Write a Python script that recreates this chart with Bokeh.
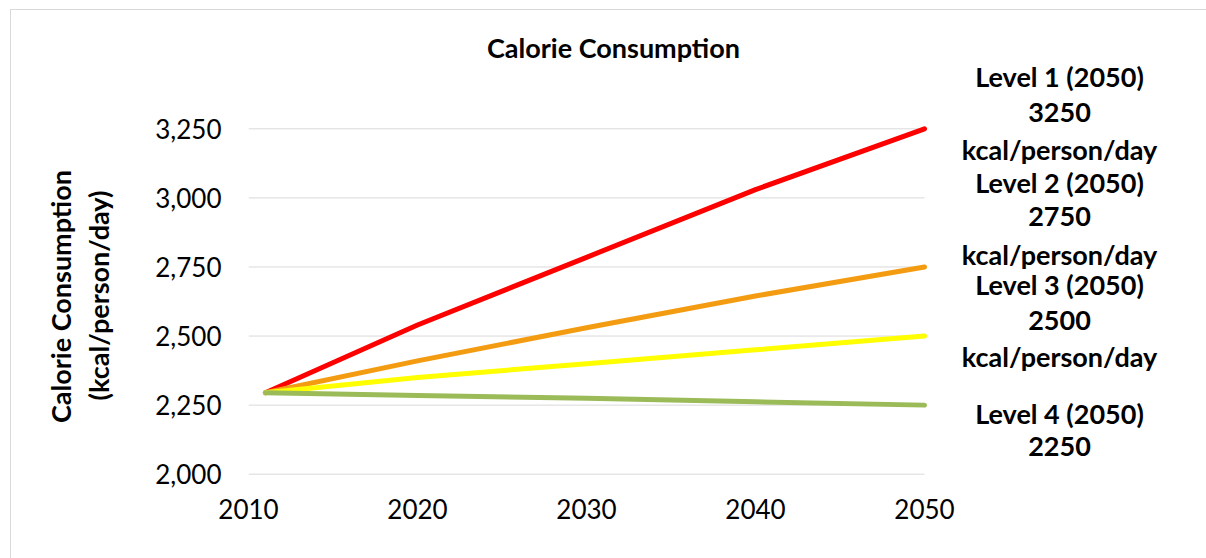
import math

from bokeh.plotting import figure
from bokeh.layouts import row
from bokeh.models import Label, NumeralTickFormatter, FixedTicker, Range1d
from bokeh.embed import file_html
from bokeh.resources import INLINE

# Projected calorie consumption (kcal/person/day) by scenario level
years = [2011, 2020, 2030, 2040, 2050]
level1 = [2295, 2540, 2785, 3030, 3250]
level2 = [2295, 2410, 2530, 2645, 2750]
level3 = [2295, 2350, 2400, 2450, 2500]
level4 = [2295, 2285, 2275, 2262, 2250]

series_colors = ["#FF0000", "#F39C12", "#FFFF00", "#9BBB59"]

x_ticks = [2010, 2020, 2030, 2040, 2050]
y_ticks = [2000, 2250, 2500, 2750, 3000, 3250]

y_title_lines = ["Calorie Consumption", "(kcal/person/day)"]

# Right-hand notes: one entry per text line
note_lines = [
    "Level 1 (2050)", "3250", "kcal/person/day",
    "Level 2 (2050)", "2750", "kcal/person/day",
    "Level 3 (2050)", "2500", "kcal/person/day",
    "Level 4 (2050)", "2250",
]
note_rows = [75, 111, 148, 181, 215, 253, 283, 319, 355, 412, 445]

FONT = "Lato"

# page geometry (pixels)
LEFT, TOP = 10, 9
TOTAL_W, H = 1196, 549
STRIP_W = 120                         # narrow strip holding the y-axis title
FRAME_L, FRAME_B = 247, 474          # page x of frame left, page y of frame bottom
PX_PER_YEAR = 16.9
PX_PER_KCAL = 0.2763
Y0_PAGE = 472.7                       # page y of the 2000 gridline

main_left = LEFT + STRIP_W
main_w = TOTAL_W - STRIP_W
frame_w = LEFT + TOTAL_W - FRAME_L
frame_h = FRAME_B - TOP
y_start = 2000 - (FRAME_B - Y0_PAGE) / PX_PER_KCAL
y_end = y_start + frame_h / PX_PER_KCAL
x_end = 2010 + frame_w / PX_PER_YEAR

# ---- strip with the rotated y-axis title (frame aligned with the chart's) ----
strip = figure(
    width=STRIP_W, height=H, output_backend="svg", toolbar_location=None,
    title_location=None, x_axis_type=None, y_axis_type=None,
    x_range=Range1d(0, STRIP_W), y_range=Range1d(0, H),
    min_border=0, background_fill_color="white", border_fill_color="white",
)
strip.outline_line_color = None
strip.xgrid.visible = False
strip.ygrid.visible = False
for text, xc, yc in zip(y_title_lines, [59, 97], [295, 294]):
    strip.add_layout(Label(
        x=xc - LEFT, y=FRAME_B - yc, x_units="screen", y_units="screen",
        text=text, angle=math.pi / 2, text_font=FONT, text_font_style="bold",
        text_font_size="27px", text_align="center", text_baseline="middle",
        text_color="#000000",
    ))

# ---- main chart ----
p = figure(
    width=main_w, height=H,
    output_backend="svg", toolbar_location=None, title_location=None,
    x_range=Range1d(2010, x_end), y_range=Range1d(y_start, y_end),
    min_border_left=FRAME_L - main_left, min_border_right=0,
    min_border_top=0, min_border_bottom=TOP + H - FRAME_B,
    background_fill_color="white", border_fill_color="white",
)
p.outline_line_color = None

# horizontal gridlines spanning the year axis only
p.segment(x0=x_ticks[0], x1=x_ticks[-1], y0=y_ticks, y1=y_ticks,
          line_color="#d9d9d9", line_width=1)

for ys, color in zip([level1, level2, level3, level4], series_colors):
    p.line(years, ys, line_color=color, line_width=5,
           line_cap="round", line_join="round")

# axes
p.xaxis.ticker = FixedTicker(ticks=x_ticks)
p.yaxis.ticker = FixedTicker(ticks=y_ticks)
p.yaxis.formatter = NumeralTickFormatter(format="0,0")
for ax in (p.xaxis[0], p.yaxis[0]):
    ax.axis_line_color = None
    ax.major_tick_line_color = None
    ax.minor_tick_line_color = None
    ax.major_label_text_font = FONT
    ax.major_label_text_font_size = "26px"
    ax.major_label_text_color = "#000000"
p.xaxis.major_label_standoff = 17
p.yaxis.major_label_standoff = 21
p.xgrid.visible = False
p.ygrid.visible = False


def add_text(text, x, y, size="27px"):
    p.add_layout(Label(
        x=x - FRAME_L, y=FRAME_B - y, x_units="screen", y_units="screen",
        text=text, text_font=FONT, text_font_style="bold",
        text_font_size=size, text_align="center", text_baseline="middle",
        text_color="#000000",
    ))


# chart title
add_text("Calorie Consumption", 612, 46)

# scenario notes on the right
for text, yc in zip(note_lines, note_rows):
    add_text(text, 1058, yc)

layout = row(strip, p, spacing=0, styles={
    "margin-left": f"{LEFT}px",
    "margin-top": f"{TOP}px",
    "border-left": "1px solid #d9d9d9",
    "border-top": "1px solid #d9d9d9",
})

open("out.html", "w").write(file_html(layout, INLINE))
